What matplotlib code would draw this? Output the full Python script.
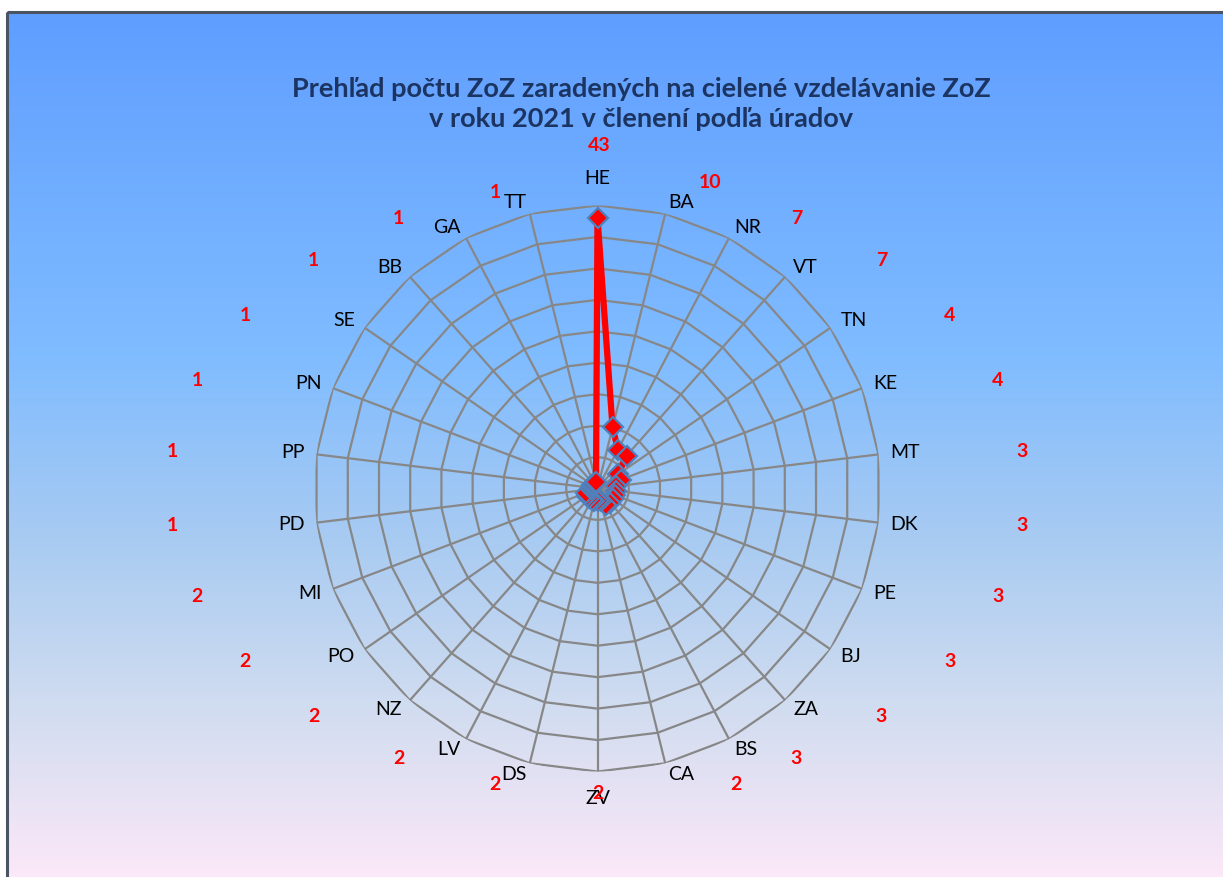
import numpy as np
import matplotlib.pyplot as plt
from matplotlib.colors import LinearSegmentedColormap
from matplotlib.patches import Rectangle

# data (clockwise from top)
urady = ['HE', 'BA', 'NR', 'VT', 'TN', 'KE', 'MT', 'DK', 'PE', 'BJ', 'ZA', 'BS', 'CA',
         'ZV', 'DS', 'LV', 'NZ', 'PO', 'MI', 'PD', 'PP', 'PN', 'SE', 'BB', 'GA', 'TT']
pocty = [43, 10, 7, 7, 4, 4, 3, 3, 3, 3, 3, 3, 2,
         2, 2, 2, 2, 2, 2, 1, 1, 1, 1, 1, 1, 1]
r_ticks = [5, 10, 15, 20, 25, 30, 35, 40, 45]

title = 'Prehľad počtu ZoZ zaradených na cielené vzdelávanie ZoZ\nv roku 2021 v členení podľa úradov'

W, H = 1223, 877
plt.rcParams['font.family'] = ['Lato', 'DejaVu Sans']

fig = plt.figure(figsize=(W / 100, H / 100), dpi=100)
fig.patch.set_facecolor('white')

# background gradient of the chart area
bg = fig.add_axes([0, 0, 1, 1])
bg.set_xlim(0, W)
bg.set_ylim(H, 0)
bg.axis('off')
cmap = LinearSegmentedColormap.from_list('bg', [
    (0.0, '#5F9EFF'), (0.4, '#80BCFF'), (0.6, '#A6CAF2'),
    (0.8, '#D0DCF0'), (1.0, '#FBE8F8')])
grad = np.linspace(0, 1, 256).reshape(-1, 1)
bg.imshow(grad, cmap=cmap, aspect='auto', extent=[8, W + 5, H, 12], zorder=0)
bg.add_patch(Rectangle((7, 12), W, H, fill=False, edgecolor='#4A5564', lw=2.2, zorder=1))

bg.text(641, 104, title, ha='center', va='center', fontsize=19.5, fontweight='bold',
        color='#1C3461', linespacing=1.32)

# radar
cx, cy, R = 597.5, 488.5, 283
ax = fig.add_axes([(cx - R) / W, (H - cy - R) / H, 2 * R / W, 2 * R / H], projection='polar')
ax.set_theta_zero_location('N')
ax.set_theta_direction(-1)
ax.set_ylim(0, r_ticks[-1])
ax.patch.set_alpha(0)
ax.spines['polar'].set_visible(False)
ax.grid(False)
ax.set_xticks([])
ax.set_yticks([])

n = len(urady)
theta = np.linspace(0, 2 * np.pi, n, endpoint=False)
theta_c = np.append(theta, theta[0])

grid_col = '#878787'
for r in r_ticks:
    ax.plot(theta_c, [r] * (n + 1), color=grid_col, lw=1.6, zorder=1)
for t in theta:
    ax.plot([t, t], [0, r_ticks[-1]], color=grid_col, lw=1.6, zorder=1)

vals = np.append(pocty, pocty[0])
ax.plot(theta_c, vals, color='red', lw=4.5, zorder=3, solid_joinstyle='miter')
ax.plot(theta, pocty, ls='none', marker='D', ms=10, mfc='red', mec='#4F81BD',
        mew=1.6, zorder=4, clip_on=False)

# category labels, anchored just outside the outer ring
for t, lab in zip(theta, urady):
    s, c = np.sin(t), np.cos(t)
    ha = 'left' if s > 0.15 else ('right' if s < -0.15 else 'center')
    va = 'center'
    pad = 12
    if abs(c) > 0.98:
        va = 'bottom' if c > 0 else 'top'
        pad = 18
    ax.annotate(lab, xy=(t, r_ticks[-1]), xytext=(pad * s * 0.72, pad * c * 0.72),
                textcoords='offset points', ha=ha, va=va, fontsize=14, color='black',
                annotation_clip=False)

# value labels on an ellipse around the radar (px), a few moved by hand like in the original
A, B = 428, 305
nudge = {'HE': (2, 38), 'BA': (10, 10), 'CA': (36, 0)}
for t, v, lab in zip(theta, pocty, urady):
    ndx, ndy = nudge.get(lab, (0, 0))
    dx = A * np.sin(t) + ndx
    dy = B * np.cos(t) + ndy
    ax.annotate(str(v), xy=(0, 0), xytext=(dx * 0.72, dy * 0.72), textcoords='offset points',
                ha='center', va='center', fontsize=14, fontweight='bold', color='red',
                annotation_clip=False)

fig.savefig('out.png', dpi=100)
